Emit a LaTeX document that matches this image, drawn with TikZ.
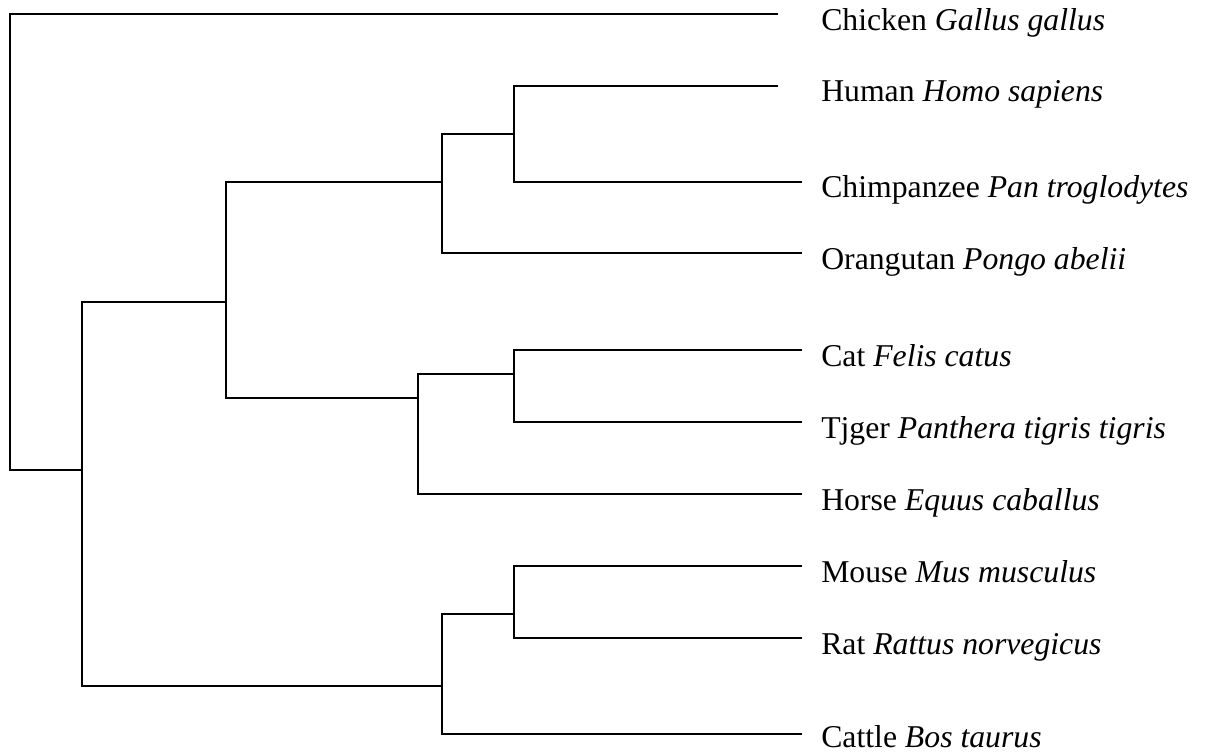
\documentclass[tikz,border=0pt]{standalone}
\usepackage{fontspec}
\setmainfont{Liberation Serif}
\begin{document}
\begin{tikzpicture}[x=0.75pt,y=-0.75pt,
  branch/.style={draw=black,line width=1.2pt,line join=miter},
  taxon/.style={anchor=base west,inner sep=0pt,font=\fontsize{23.8pt}{28pt}\selectfont}]
\useasboundingbox (0,0) rectangle (1205,752);
% internal nodes
\coordinate (R) at (10,242);
\coordinate (M) at (82,470);
\coordinate (B) at (226,302);
\coordinate (P) at (442,182);
\coordinate (HC) at (514,134);
\coordinate (L) at (418,398);
\coordinate (F) at (514,374);
\coordinate (E) at (442,686);
\coordinate (G) at (514,614);
% leaf ends
\coordinate (chicken) at (778,14);
\coordinate (human) at (778,86);
\coordinate (chimp) at (802,182);
\coordinate (orang) at (802,253);
\coordinate (cat) at (802,350);
\coordinate (tiger) at (802,422);
\coordinate (horse) at (802,494);
\coordinate (mouse) at (802,566);
\coordinate (rat) at (802,638);
\coordinate (cattle) at (802,734);
% branches
\draw[branch] (R) |- (chicken);
\draw[branch] (R) |- (M);
\draw[branch] (M) |- (B);
\draw[branch] (M) |- (E);
\draw[branch] (B) |- (P);
\draw[branch] (B) |- (L);
\draw[branch] (P) |- (HC);
\draw[branch] (P) |- (orang);
\draw[branch] (HC) |- (human);
\draw[branch] (HC) |- (chimp);
\draw[branch] (L) |- (F);
\draw[branch] (L) |- (horse);
\draw[branch] (F) |- (cat);
\draw[branch] (F) |- (tiger);
\draw[branch] (E) |- (G);
\draw[branch] (E) |- (cattle);
\draw[branch] (G) |- (mouse);
\draw[branch] (G) |- (rat);
% labels
\node[taxon] (tchicken) at (821,31) {Chicken \textit{Gallus gallus}};
\node[taxon] (thuman) at (821,102) {Human \textit{Homo sapiens}};
\node[taxon] (tchimp) at (821,198) {Chimpanzee \textit{Pan troglodytes}};
\node[taxon] (torang) at (821,269) {Orangutan \textit{Pongo abelii}};
\node[taxon] (tcat) at (821,366) {Cat \textit{Felis catus}};
\node[taxon] (ttiger) at (821,438) {Tjger \textit{Panthera tigris tigris}};
\node[taxon] (thorse) at (821,510) {Horse \textit{Equus caballus}};
\node[taxon] (tmouse) at (821,582) {Mouse \textit{Mus musculus}};
\node[taxon] (trat) at (821,654) {Rat \textit{Rattus norvegicus}};
\node[taxon] (tcattle) at (821,747) {Cattle \textit{Bos taurus}};
\end{tikzpicture}
\end{document}
